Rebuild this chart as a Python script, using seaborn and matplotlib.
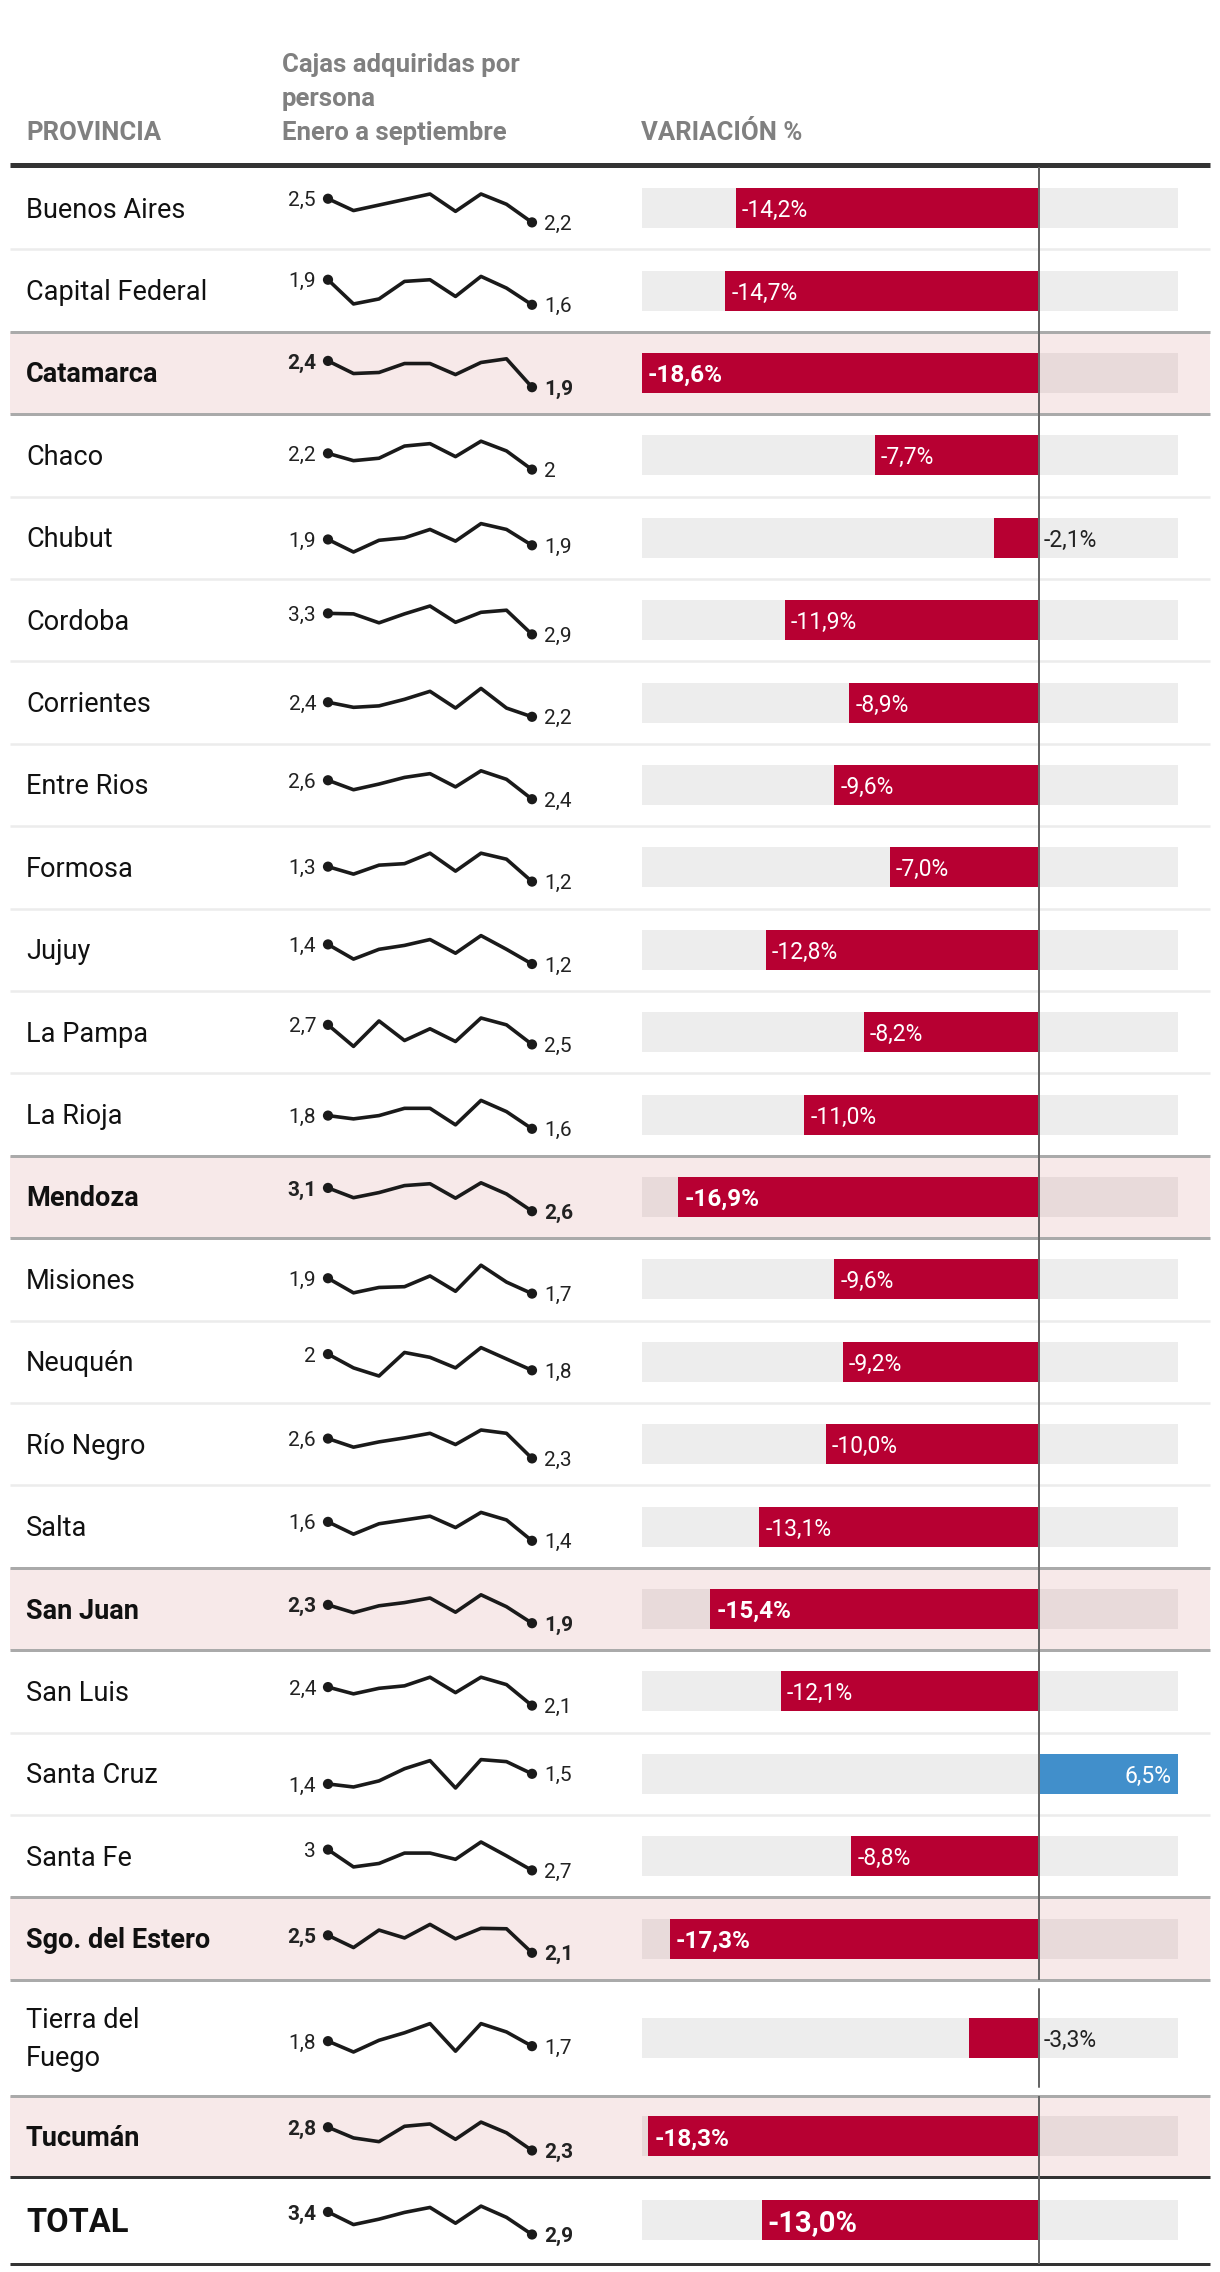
import matplotlib
matplotlib.use('Agg')
import matplotlib.pyplot as plt
import seaborn as sns
import pandas as pd

# Datos de la tabla
provincias = ['Buenos Aires', 'Capital Federal', 'Catamarca', 'Chaco', 'Chubut', 'Cordoba',
              'Corrientes', 'Entre Rios', 'Formosa', 'Jujuy', 'La Pampa', 'La Rioja', 'Mendoza',
              'Misiones', 'Neuquén', 'Río Negro', 'Salta', 'San Juan', 'San Luis', 'Santa Cruz',
              'Santa Fe', 'Sgo. del Estero', 'Tierra del\nFuego', 'Tucumán', 'TOTAL']
variacion = [-14.2, -14.7, -18.6, -7.7, -2.1, -11.9, -8.9, -9.6, -7.0, -12.8, -8.2, -11.0, -16.9,
             -9.6, -9.2, -10.0, -13.1, -15.4, -12.1, 6.5, -8.8, -17.3, -3.3, -18.3, -13.0]
destacadas = ['Catamarca', 'Mendoza', 'San Juan', 'Sgo. del Estero', 'Tucumán']
meses = ['Ene', 'Feb', 'Mar', 'Abr', 'May', 'Jun', 'Jul', 'Ago', 'Sep']
cajas = [
    [2.5, 2.35, 2.42, 2.49, 2.56, 2.34, 2.56, 2.43, 2.2],
    [1.9, 1.61, 1.67, 1.88, 1.90, 1.70, 1.94, 1.80, 1.6],
    [2.4, 2.16, 2.18, 2.35, 2.35, 2.14, 2.37, 2.44, 1.9],
    [2.2, 2.11, 2.14, 2.29, 2.32, 2.16, 2.35, 2.23, 2.0],
    [1.93, 1.78, 1.92, 1.95, 2.05, 1.91, 2.12, 2.05, 1.86],
    [3.3, 3.29, 3.12, 3.29, 3.44, 3.13, 3.32, 3.36, 2.9],
    [2.4, 2.33, 2.35, 2.44, 2.55, 2.32, 2.59, 2.32, 2.2],
    [2.6, 2.50, 2.56, 2.63, 2.67, 2.53, 2.70, 2.61, 2.4],
    [1.3, 1.25, 1.31, 1.32, 1.39, 1.27, 1.39, 1.35, 1.2],
    [1.4, 1.25, 1.35, 1.39, 1.45, 1.31, 1.49, 1.35, 1.2],
    [2.7, 2.48, 2.74, 2.54, 2.66, 2.53, 2.77, 2.70, 2.5],
    [1.8, 1.75, 1.80, 1.91, 1.91, 1.66, 2.03, 1.86, 1.6],
    [3.1, 2.89, 3.00, 3.15, 3.19, 2.88, 3.21, 2.97, 2.6],
    [1.9, 1.71, 1.78, 1.79, 1.93, 1.73, 2.07, 1.85, 1.7],
    [2.0, 1.83, 1.73, 2.02, 1.96, 1.83, 2.08, 1.94, 1.8],
    [2.6, 2.47, 2.55, 2.61, 2.68, 2.51, 2.73, 2.68, 2.3],
    [1.6, 1.47, 1.58, 1.62, 1.66, 1.54, 1.70, 1.62, 1.4],
    [2.3, 2.13, 2.28, 2.35, 2.45, 2.14, 2.52, 2.26, 1.9],
    [2.4, 2.29, 2.38, 2.42, 2.56, 2.31, 2.56, 2.44, 2.1],
    [1.4, 1.37, 1.43, 1.55, 1.63, 1.36, 1.64, 1.62, 1.5],
    [3.0, 2.75, 2.80, 2.95, 2.95, 2.86, 3.11, 2.91, 2.7],
    [2.5, 2.22, 2.62, 2.44, 2.75, 2.42, 2.66, 2.65, 2.1],
    [1.78, 1.65, 1.79, 1.88, 1.99, 1.66, 1.99, 1.89, 1.72],
    [2.8, 2.57, 2.49, 2.82, 2.87, 2.54, 2.91, 2.68, 2.3],
    [3.4, 3.12, 3.24, 3.39, 3.50, 3.15, 3.53, 3.28, 2.9],
]

ROJO = '#b70032'
AZUL = '#418fcb'
PISTA = '#ededed'
PISTA_DEST = '#e8dada'
ROSA = '#f7e9e9'
GRIS_TXT = '#808080'
NEGRO = '#1a1a1a'

sns.set_theme(style='white')
plt.rcParams['font.family'] = ['Roboto', 'DejaVu Sans']

W, H = 1220, 2272
PX = 100 / 72  # pixeles por punto
fig = plt.figure(figsize=(W / 100, H / 100), dpi=100)
fondo = fig.add_axes([0, 0, 1, 1])
fondo.set_xlim(0, W)
fondo.set_ylim(H, 0)
fondo.axis('off')


def fmt_num(v):
    s = f"{round(v, 1):.1f}".replace('.', ',')
    return s[:-2] if s.endswith(',0') else s


# Encabezado
fondo.text(26, 140, 'PROVINCIA', fontsize=18.5, weight='bold', color=GRIS_TXT, va='baseline')
for texto, yb in zip(['Cajas adquiridas por', 'persona', 'Enero a septiembre'], [72, 106, 140]):
    fondo.text(282, yb, texto, fontsize=18.5, weight='bold', color=GRIS_TXT, va='baseline')
fondo.text(641, 140, 'VARIACIÓN %', fontsize=18.5, weight='bold', color=GRIS_TXT, va='baseline')
fondo.hlines(165, 10, 1210, color='#333333', lw=5 / PX)

alto_filas = [82.4] * 22 + [116, 81, 87]
vmin, vmax = min(variacion), max(variacion)

y0 = 167
for i, prov in enumerate(provincias):
    h = alto_filas[i]
    y1 = y0 + h
    yc = (y0 + y1) / 2
    dest = prov in destacadas
    total = prov == 'TOTAL'
    peso = 'bold' if (dest or total) else 'normal'

    if dest:
        fondo.axhspan(y0, y1, xmin=10 / W, xmax=1210 / W, color=ROSA, lw=0, zorder=0)

    # linea inferior de la fila
    sig = provincias[i + 1] if i + 1 < len(provincias) else None
    if total or sig == 'TOTAL':
        fondo.hlines(y1, 10, 1210, color='#333333', lw=3 / PX, zorder=2)
    elif dest or sig in destacadas:
        fondo.hlines(y1, 10, 1210, color='#aaaaaa', lw=3 / PX, zorder=2)
    else:
        fondo.hlines(y1, 10, 1210, color='#ececec', lw=2.5 / PX, zorder=1)

    # nombre
    if total:
        fondo.text(26, yc + 12, prov, fontsize=23.5, weight='bold', color='#111111', va='baseline')
    else:
        lineas = prov.split('\n')
        for k, linea in enumerate(lineas):
            yl = yc + (k - (len(lineas) - 1) / 2) * 38
            fondo.text(26, yl + 9.5, linea, fontsize=19.5, weight=peso, color='#111111',
                       va='baseline')

    # sparkline
    valores = cajas[i]
    ax = fig.add_axes([328 / W, 1 - (yc + 14.2) / H, 204 / W, 28.4 / H])
    df = pd.DataFrame({'mes': meses, 'valor': valores})
    df['pos'] = range(len(meses))
    sns.lineplot(data=df, x='pos', y='valor', ax=ax, color=NEGRO, linewidth=3.6 / PX,
                 clip_on=False)
    sns.scatterplot(data=df.iloc[[0, -1]], x='pos', y='valor', ax=ax, color=NEGRO, s=54,
                    edgecolor='none', clip_on=False, zorder=3)
    ax.set_xlim(0, len(meses) - 1)
    ax.set_ylim(min(valores), max(valores))
    ax.axis('off')
    tam_num = 15
    peso_num = 'bold' if (dest or total) else 'normal'
    ax.annotate(fmt_num(valores[0]), (0, valores[0]), xytext=(-12 / PX, 0),
                textcoords='offset points', ha='right', va='center_baseline',
                fontsize=tam_num, weight=peso_num, color='#222222')
    ax.annotate(fmt_num(valores[-1]), (len(meses) - 1, valores[-1]), xytext=(12 / PX, 0),
                textcoords='offset points', ha='left', va='center_baseline',
                fontsize=tam_num, weight=peso_num, color='#222222')

    # barra de variacion
    v = variacion[i]
    axb = fig.add_axes([642 / W, 1 - y1 / H, 536 / W, h / H])
    ancho = 0.8
    axb.barh(0, vmax - vmin, left=vmin, height=ancho, color=PISTA_DEST if dest else PISTA, lw=0)
    sns.barplot(x=[v], y=[prov], orient='h', ax=axb, color=AZUL if v > 0 else ROJO,
                width=ancho, saturation=1, linewidth=0)
    axb.set_xlim(vmin, vmax)
    ext = ancho / 2 * h / 40
    axb.set_ylim(ext, -ext)
    axb.axis('off')
    if prov.startswith('Tierra'):
        axb.axvline(0, ymin=0.08, ymax=0.92, color='#666666', lw=2 / PX)
    else:
        axb.axvline(0, color='#666666', lw=2 / PX)

    etiqueta = f"{v:.1f}".replace('.', ',') + '%'
    tam = 21 if total else (17.5 if dest else 16.5)
    peso_bar = 'bold' if (dest or total) else 'normal'
    if v > 0:
        axb.annotate(etiqueta, (v, 0), xytext=(-7 / PX, 0), textcoords='offset points',
                     ha='right', va='center_baseline', fontsize=tam, weight=peso_bar, color='white')
    elif v > -4:
        axb.annotate(etiqueta, (0, 0), xytext=(4 / PX, 0), textcoords='offset points',
                     ha='left', va='center_baseline', fontsize=tam, weight='normal',
                     color='#222222')
    else:
        axb.annotate(etiqueta, (v, 0), xytext=(6 / PX, 0), textcoords='offset points',
                     ha='left', va='center_baseline', fontsize=tam, weight=peso_bar, color='white')

    y0 = y1

fig.savefig('out.png', dpi=100, facecolor='white')
